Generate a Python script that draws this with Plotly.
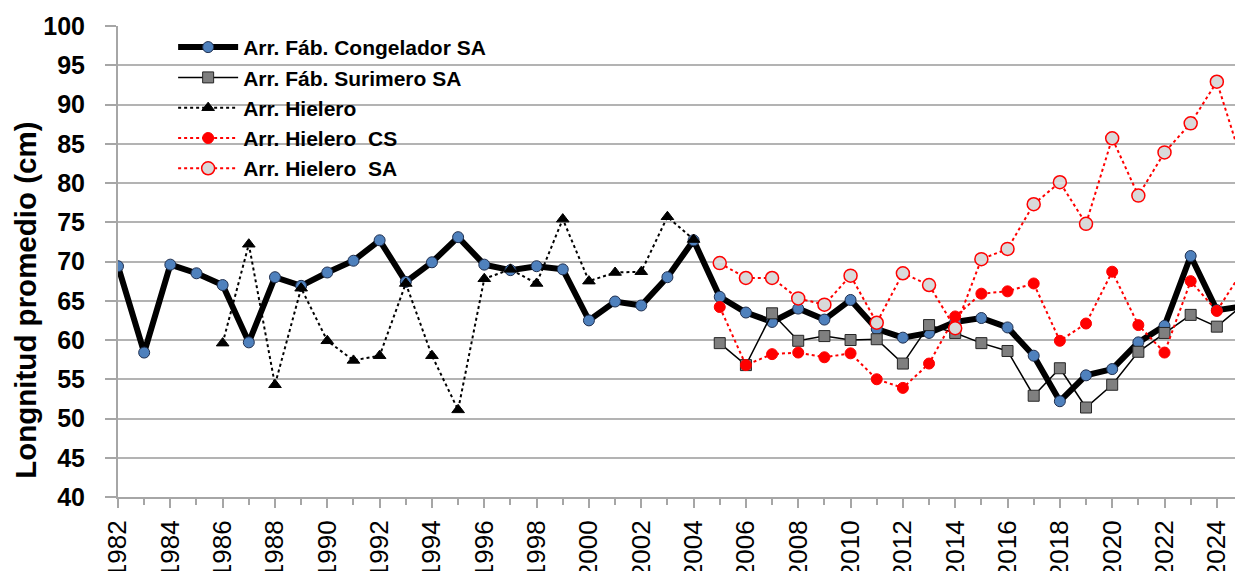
import plotly.graph_objects as go

years_all = list(range(1982, 2026))
years_hielero = list(range(1986, 2005))
years_recent = list(range(2005, 2026))

congelador_sa = [69.4, 58.4, 69.6, 68.5, 67.0, 59.7, 68.0, 66.9, 68.6, 70.1,
                 72.7, 67.4, 69.9, 73.1, 69.6, 68.9, 69.4, 69.0, 62.5, 64.9,
                 64.4, 68.0, 72.7, 65.5, 63.5, 62.3, 64.0, 62.6, 65.1, 61.4,
                 60.3, 60.9, 62.3, 62.8, 61.6, 58.0, 52.2, 55.5, 56.3, 59.7,
                 61.8, 70.7, 63.8, 64.3]
surimero_sa = [59.6, 56.8, 63.4, 59.9, 60.5, 60.0, 60.1, 57.0, 61.9, 60.9,
               59.6, 58.6, 52.9, 56.4, 51.4, 54.3, 58.5, 60.9, 63.2, 61.7, 64.5]
hielero = [59.6, 72.2, 54.3, 66.6, 59.9, 57.4, 58.0, 67.2, 58.0, 51.1,
           67.8, 69.0, 67.2, 75.4, 67.5, 68.6, 68.7, 75.7, 72.8]
hielero_cs = [64.2, 56.8, 58.2, 58.4, 57.8, 58.3, 55.0, 53.9, 57.0, 63.0,
              65.9, 66.2, 67.2, 59.9, 62.1, 68.7, 61.9, 58.4, 67.5, 63.7, 68.9]
hielero_sa = [69.8, 67.9, 67.9, 65.3, 64.5, 68.2, 62.2, 68.5, 67.0, 61.5,
              70.3, 71.6, 77.3, 80.1, 74.8, 85.7, 78.4, 83.9, 87.6, 92.9, 82.3]

names = ["Arr. Fáb. Congelador SA", "Arr. Fáb. Surimero SA", "Arr. Hielero",
         "Arr. Hielero  CS", "Arr. Hielero  SA"]
y_title = "Longnitud promedio (cm)"

FONT = "Arial, 'Liberation Sans', sans-serif"

fig = go.Figure()
fig.add_trace(go.Scatter(
    x=years_all, y=congelador_sa, name=names[0], mode="lines+markers",
    line=dict(color="black", width=6),
    marker=dict(symbol="circle", size=11, color="#4f81bd",
                line=dict(color="#1f2f4f", width=1))))
fig.add_trace(go.Scatter(
    x=years_recent, y=surimero_sa, name=names[1], mode="lines+markers",
    line=dict(color="black", width=1.5),
    marker=dict(symbol="square", size=11, color="#7f7f7f",
                line=dict(color="#262626", width=1))))
fig.add_trace(go.Scatter(
    x=years_hielero, y=hielero, name=names[2], mode="lines+markers",
    line=dict(color="black", width=2, dash="dot"),
    marker=dict(symbol="triangle-up", size=11, color="black",
                line=dict(color="black", width=1))))
fig.add_trace(go.Scatter(
    x=years_recent, y=hielero_cs, name=names[3], mode="lines+markers",
    line=dict(color="#ff0000", width=2, dash="dot"),
    marker=dict(symbol="circle", size=11, color="#ff0000",
                line=dict(color="#ff0000", width=1))))
fig.add_trace(go.Scatter(
    x=years_recent, y=hielero_sa, name=names[4], mode="lines+markers",
    line=dict(color="#ff0000", width=2, dash="dot"),
    marker=dict(symbol="circle", size=13, color="#d9d9d9",
                line=dict(color="#ff0000", width=1.5))))

fig.add_annotation(
    text=y_title, textangle=-90, xref="paper", yref="paper",
    x=-0.083, y=0.418, xanchor="center", yanchor="middle", showarrow=False,
    font=dict(size=29.5, family=FONT, color="black", weight="bold"))

fig.update_layout(
    width=1235, height=563,
    margin=dict(l=110, r=0, t=18, b=74, autoexpand=False),
    paper_bgcolor="white", plot_bgcolor="white",
    font=dict(family=FONT, color="black"),
    showlegend=True,
    legend=dict(x=0.049, y=0.998, xanchor="left", yanchor="top",
                bgcolor="rgba(0,0,0,0)", borderwidth=0,
                font=dict(size=21, family=FONT, color="black", weight="bold"),
                itemwidth=60, tracegroupgap=0),
    xaxis=dict(range=[1982, 2025], tick0=1982, dtick=2, automargin=False,
               showgrid=False, zeroline=False,
               showline=True, linecolor="#a6a6a6", linewidth=2,
               ticks="outside", ticklen=9, tickcolor="#a6a6a6", tickwidth=2,
               ticklabelstandoff=2,
               tickangle=-90, tickfont=dict(size=26, family=FONT, color="black"),
               minor=dict(dtick=1, tick0=1982, ticks="outside", ticklen=6,
                          tickcolor="#a6a6a6", tickwidth=2, showgrid=False)),
    yaxis=dict(range=[40, 100], dtick=5, tick0=40, automargin=False,
               showgrid=True, gridcolor="#b3b3b3", gridwidth=2,
               zeroline=False, showline=True, linecolor="#a6a6a6", linewidth=2,
               ticks="outside", ticklen=11, tickcolor="#a6a6a6", tickwidth=2,
               ticklabelstandoff=15,
               tickfont=dict(size=25, family=FONT, color="black", weight="bold")),
)

fig.write_html("out.html")
